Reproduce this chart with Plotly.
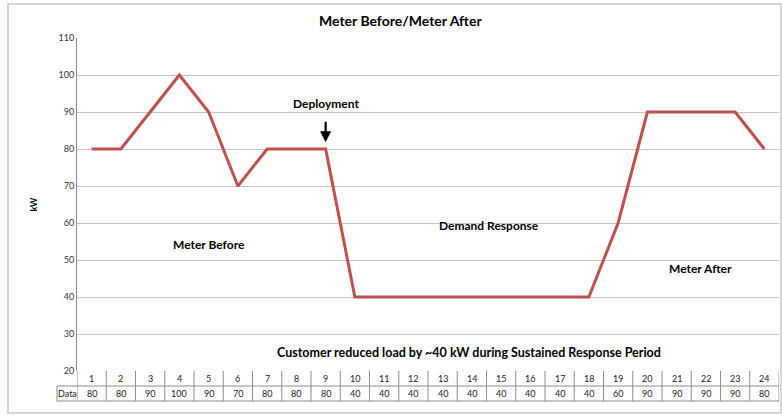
import plotly.graph_objects as go

categories = list(range(1, 25))
kw_values = [80, 80, 90, 100, 90, 70, 80, 80, 80, 40, 40, 40, 40, 40, 40, 40, 40, 40, 60, 90, 90, 90, 90, 80]
y_ticks = [20, 30, 40, 50, 60, 70, 80, 90, 100, 110]
title_text = "Meter Before/Meter After"
row_label = "Data"

FONT = "Lato"
W, H = 782, 416
ml, mr, mt, mb = 77, 3, 38, 45
plot_h = H - mt - mb
plot_w = W - ml - mr

fig = go.Figure()
fig.add_trace(go.Scatter(
    x=categories, y=kw_values, mode="lines",
    line=dict(color="#C0504D", width=3), hoverinfo="x+y", showlegend=False,
))

def py(px):
    # pixels below plot bottom -> paper coordinate
    return -px / plot_h

def pxx(px):
    return (px - ml) / plot_w

shapes = []
line_c = "#8c8c8c"
for yy in [py(15), py(30)]:
    shapes.append(dict(type="line", xref="paper", yref="paper", x0=pxx(57), x1=1, y0=yy, y1=yy,
                       line=dict(color=line_c, width=1)))
shapes.append(dict(type="line", xref="paper", yref="paper", x0=pxx(57), x1=pxx(57), y0=py(15), y1=py(30),
                   line=dict(color=line_c, width=1)))
for i in range(len(categories) + 1):
    xb = 0.5 + i
    shapes.append(dict(type="line", xref="x", yref="paper", x0=xb, x1=xb, y0=0, y1=py(30),
                       line=dict(color=line_c, width=1)))
# outer chart border
shapes.append(dict(type="rect", xref="paper", yref="paper",
                   x0=pxx(8), x1=pxx(781),
                   y0=py(42), y1=1 + 34 / plot_h,
                   line=dict(color="#c8c8c8", width=1.5), fillcolor="rgba(0,0,0,0)"))

cell_font = dict(family=FONT, size=9, color="#222")
annotations = []
for c, v in zip(categories, kw_values):
    annotations.append(dict(x=c, y=py(7.5), xref="x", yref="paper", text=str(c), showarrow=False,
                            xanchor="center", yanchor="middle", font=cell_font))
    annotations.append(dict(x=c, y=py(22.5), xref="x", yref="paper", text=str(v), showarrow=False,
                            xanchor="center", yanchor="middle", font=cell_font))
annotations.append(dict(x=pxx(67), y=py(22.5), xref="paper", yref="paper", text=row_label,
                        xanchor="center", yanchor="middle", showarrow=False, font=cell_font))

bold = dict(family=FONT, size=12, color="#000")
annotations += [
    dict(x=pxx(400), xref="paper", y=1 + 18 / plot_h, yref="paper", text="<b>" + title_text + "</b>",
         xanchor="center", yanchor="middle", showarrow=False, font=dict(family=FONT, size=14, color="#000")),
    dict(x=9, y=92.2, text="<b>Deployment</b>", showarrow=False, font=bold),
    dict(x=5, y=54.3, text="<b>Meter Before</b>", showarrow=False, font=bold),
    dict(x=14.6, y=59.2, text="<b>Demand Response</b>", showarrow=False, font=bold),
    dict(x=21.8, y=47.6, text="<b>Meter After</b>", showarrow=False, font=bold),
    dict(x=13.9, y=24.9, text="<b>Customer reduced load by ~40 kW during Sustained Response Period</b>",
         showarrow=False, font=dict(family=FONT, size=12.5, color="#000")),
    dict(x=9, y=81.8, ax=9, ay=87.8, axref="x", ayref="y", xref="x", yref="y", text="",
         showarrow=True, arrowhead=2, arrowsize=1, arrowwidth=2.2, arrowcolor="#000"),
    dict(x=pxx(33), xref="paper", y=65, yref="y", text="<b>kW</b>", textangle=-90,
         xanchor="center", yanchor="middle", showarrow=False, font=dict(family=FONT, size=9, color="#000")),
]

fig.update_layout(
    width=W, height=H,
    margin=dict(l=ml, r=mr, t=mt, b=mb),
    paper_bgcolor="white", plot_bgcolor="white",
    xaxis=dict(range=[0.5, 24.5], showticklabels=False, showgrid=False, zeroline=False,
               showline=False, ticks=""),
    yaxis=dict(range=[20, 110], tickvals=y_ticks, showgrid=True, gridcolor="#c3c3c3", gridwidth=1,
               zeroline=False, showline=True, linecolor="#8c8c8c", linewidth=1, ticks="",
               tickfont=dict(family=FONT, size=9, color="#333")),
    shapes=shapes, annotations=annotations,
)

fig.write_html("out.html", config={"displayModeBar": False},
               post_script="document.body.style.margin='0';")
